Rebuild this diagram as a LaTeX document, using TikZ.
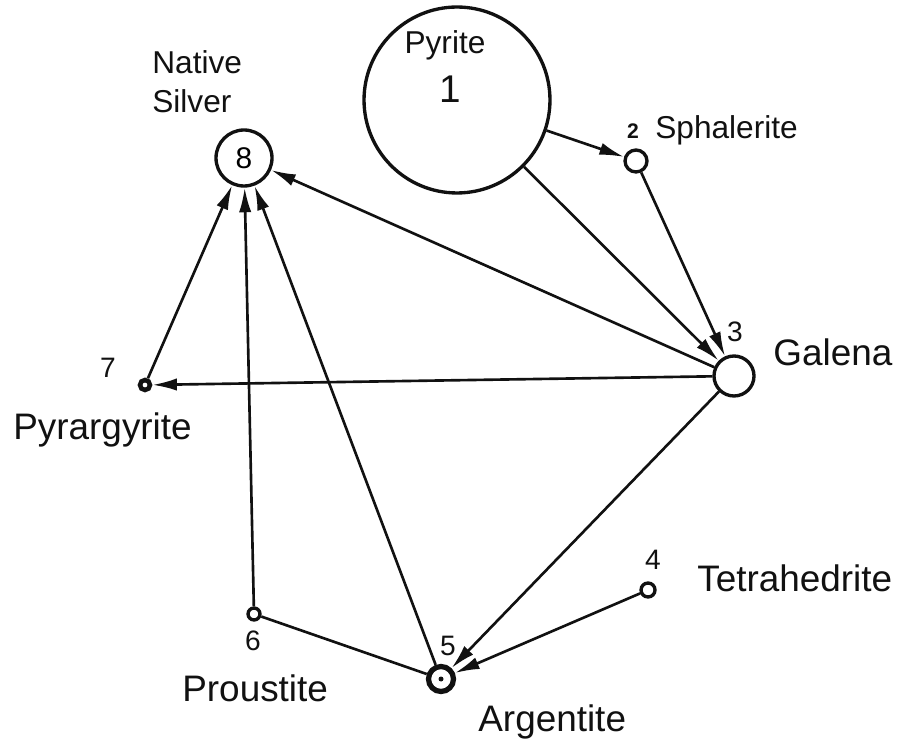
\documentclass[tikz,border=0pt]{standalone}
\usepackage{fontspec}
\setmainfont{Liberation Sans}
\usetikzlibrary{arrows.meta}
\definecolor{inkblack}{HTML}{111111}
\tikzset{
  mineral/.style={circle, draw=inkblack, line width=1.9pt, inner sep=0pt},
  flow/.style={inkblack, -{Latex[length=14pt,width=7pt]}, line width=1.5pt},
  link/.style={inkblack, line width=1.5pt},
  namelabel/.style={inkblack, anchor=west, inner sep=0pt, font=\fontsize{21}{25}\selectfont},
  smalllabel/.style={namelabel, font=\fontsize{18}{22}\selectfont},
  numlabel/.style={inkblack, inner sep=0pt, font=\fontsize{16}{18}\selectfont}
}
\begin{document}
\begin{tikzpicture}[x=0.02cm, y=-0.02cm]
  \useasboundingbox (0,0) rectangle (913,749);
  % minerals
  \node[mineral, minimum size=3.72cm] (pyrite) at (457,100) {};
  \node[mineral, minimum size=0.44cm] (sphalerite) at (636,161) {};
  \node[mineral, minimum size=0.8cm] (galena) at (734,376) {};
  \node[mineral, minimum size=0.28cm] (tetra) at (648,590) {};
  \node[mineral, minimum size=0.5cm, line width=3pt] (argentite) at (441,679) {};
  \node[mineral, minimum size=0.24cm] (proustite) at (254,614) {};
  \node[mineral, minimum size=0.2cm, line width=2.6pt] (pyrargyrite) at (145,385) {};
  \node[mineral, minimum size=1.12cm, font=\fontsize{17}{19}\selectfont] (silver) at (244,158) {8};
  \fill[inkblack] (argentite.center) circle (2.5);
  % numbers and names
  \node[numlabel, smalllabel, anchor=center] (pyritename) at (445,45) {Pyrite};
  \node[numlabel, font=\fontsize{22}{24}\selectfont] (pyritenum) at (450,89) {1};
  \node[numlabel, font=\fontsize{12}{14}\selectfont\bfseries] (sphalnum) at (633,131) {2};
  \node[smalllabel] (sphalname) at (655,130) {Sphalerite};
  \node[smalllabel, align=left] (silvername) at (152,82) {Native\\Silver};
  \node[numlabel] (galenanum) at (735,332) {3};
  \node[namelabel] (galenaname) at (773,352) {Galena};
  \node[numlabel] (pyrargnum) at (108,368) {7};
  \node[namelabel] (pyrargname) at (13,430) {Pyrargyrite};
  \node[numlabel] (proustnum) at (253,641) {6};
  \node[namelabel] (proustname) at (182,688) {Proustite};
  \node[numlabel] (argentnum) at (448,646) {5};
  \node[namelabel] (argentname) at (478,722) {Argentite};
  \node[numlabel] (tetranum) at (653,560) {4};
  \node[namelabel] (tetraname) at (697,578) {Tetrahedrite};
  % paths
  \draw[flow] (pyrite) -- (sphalerite);
  \draw[flow] (pyrite) -- (galena);
  \draw[flow] (sphalerite) -- (galena);
  \draw[flow] (galena) -- (silver);
  \draw[flow] (galena) -- (pyrargyrite);
  \draw[flow] (galena) -- (argentite);
  \draw[flow] (tetra) -- (argentite);
  \draw[flow] (pyrargyrite) -- (silver);
  \draw[flow] (proustite) -- (silver);
  \draw[flow] (argentite) -- (silver);
  \draw[link] (proustite) -- (argentite);
\end{tikzpicture}
\end{document}
